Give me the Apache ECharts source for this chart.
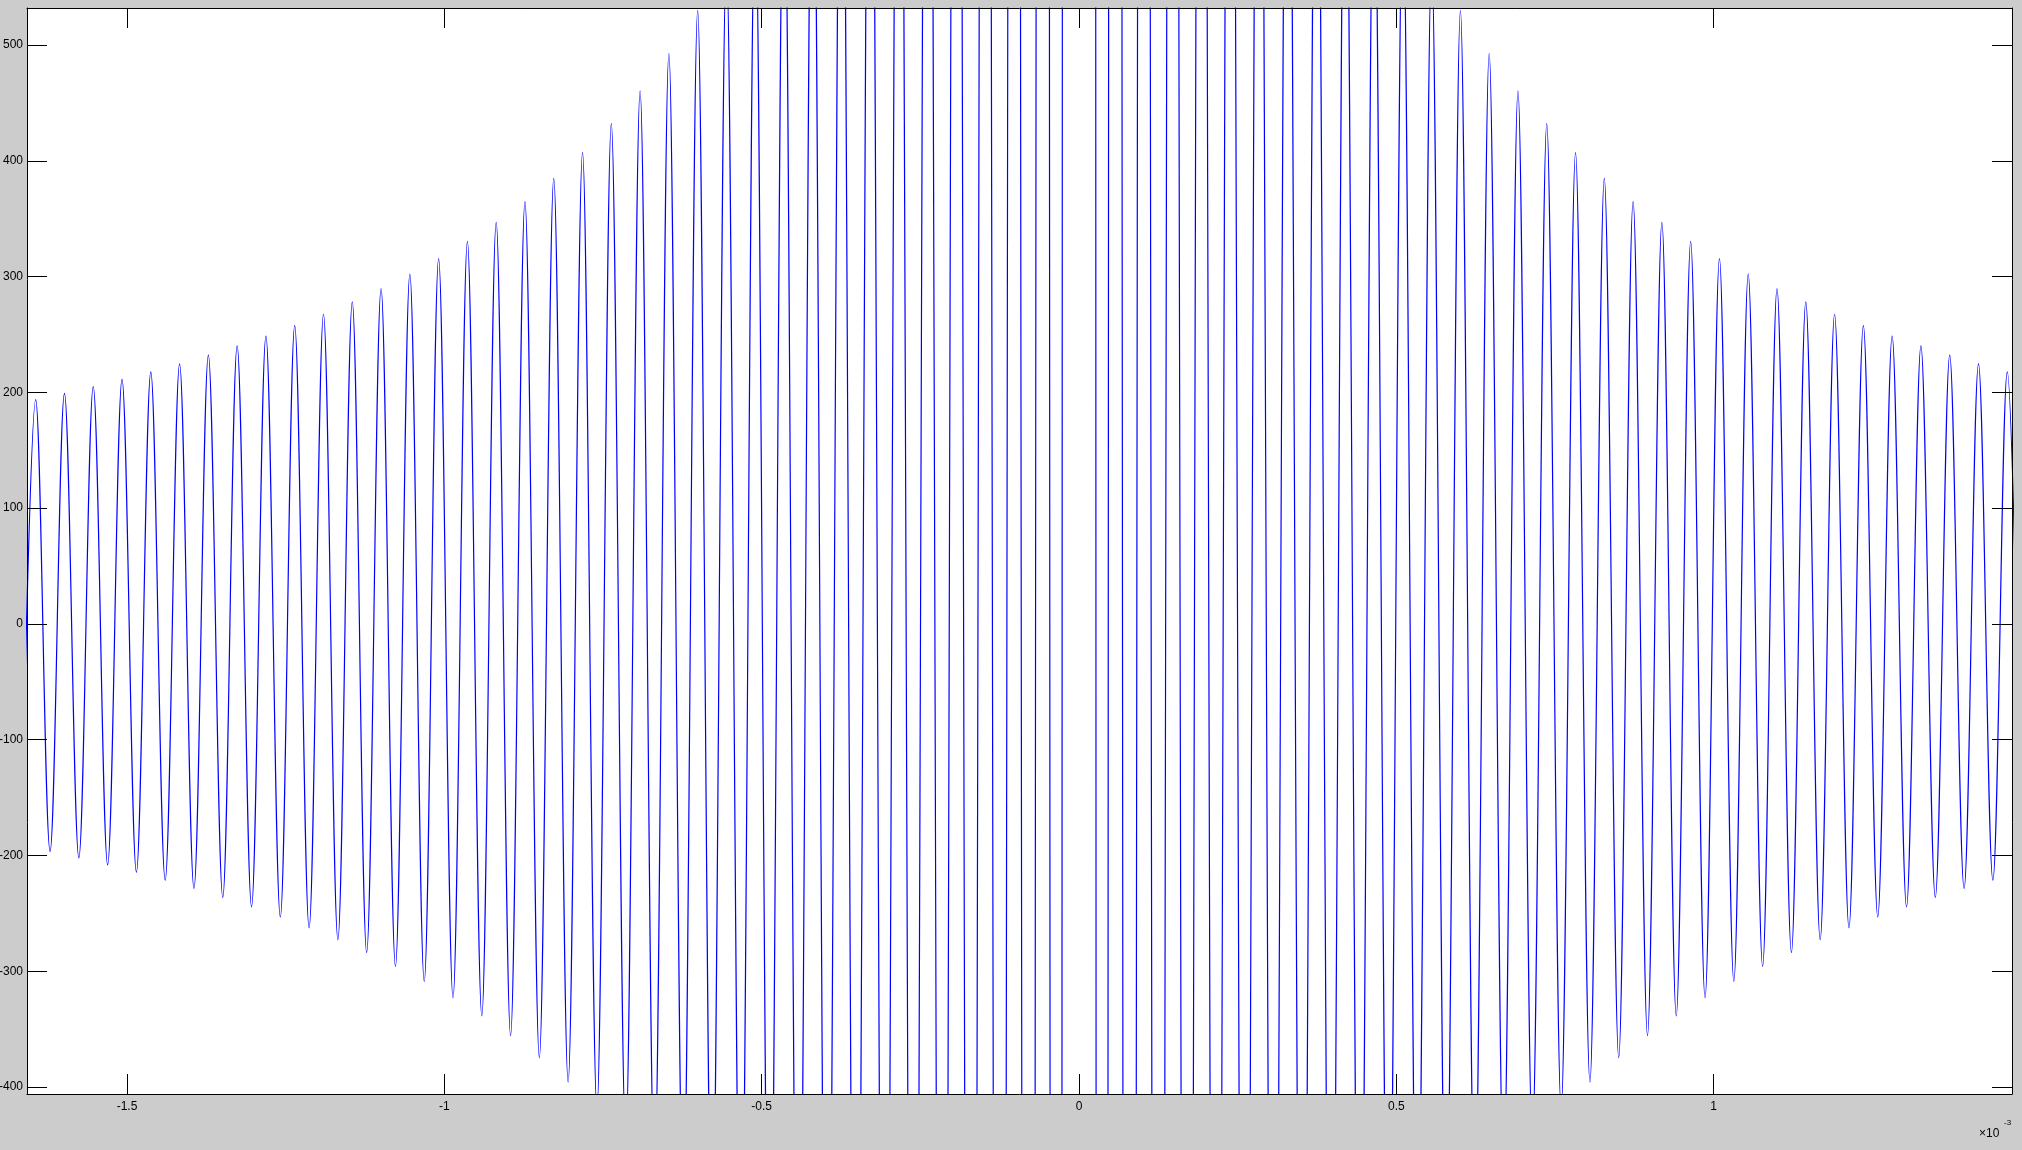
<!DOCTYPE html>
<html>
<head>
<meta charset="utf-8">
<script src="https://cdn.jsdelivr.net/npm/echarts@6/dist/echarts.min.js"></script>
<style>
html,body{margin:0;padding:0;background:#cccccc;}
#chart{width:2022px;height:1150px;}
</style>
</head>
<body>
<div id="chart"></div>
<script>
// Time axis is in units of 1e-3 (shown as "x 10^-3").
// Extremum (lobe) points read/, left of centre (far left first).
const leftTimes = [
  -1.66661,-1.64394,-1.62126,-1.59859,-1.57591,-1.55324,-1.53056,-1.50789,
  -1.48521,-1.46254,-1.43986,-1.41719,-1.39451,
  -1.37184,-1.34916,-1.32649,-1.30381,-1.28114,-1.25846,-1.23579,-1.21311,-1.19044,-1.16776,
  -1.14509,-1.12241,-1.09974,-1.07706,-1.05439,-1.03171,-1.00904,-0.98636,-0.96369,-0.94101,
  -0.91834,-0.89566,-0.87299,-0.85031,-0.82764,-0.80496,-0.78229,-0.75961,-0.73694,-0.71426,
  -0.69159,-0.66891,-0.64624,-0.62356,-0.60089,-0.57821,-0.55554,-0.53286,-0.51019,-0.48751,
  -0.46484,-0.44216,-0.41949,-0.39681,-0.37414,-0.35146,-0.32879,-0.30611,-0.28344,-0.26076,
  -0.23809,-0.21541,-0.19274,-0.17006,-0.14739,-0.12429,-0.10153,-0.07870,-0.05576,-0.03243
];
const leftValues = [
  -191.1,193.7,-196.5,199.2,-202.1,205.1,-208.1,211.2,
  -214.4,217.8,-221.2,224.7,-228.4,
  232.2,-236.1,240.1,-244.3,248.6,-253.1,257.7,-262.5,267.5,-272.7,
  278.1,-283.8,289.6,-295.7,302.1,-308.7,315.6,-322.9,330.5,-338.5,
  346.8,-355.6,364.8,-374.6,384.8,-395.7,407.1,-419.3,432.2,-445.9,
  460.5,-476.1,492.9,-510.8,530.0,-550.8,573.3,-597.7,624.3,-653.3,
  685.2,-720.3,759.3,-802.6,851.3,-906.2,968.7,-1040.5,1123.7,-1221.4,
  1337.7,-1478.6,1652.5,-1873,2161,-2559,3128,-4029,5666,-9585
];
// Central lobe (far above the visible range)
const centreTime = [0];
const centreValue = [44127];
// Extremum points right of centre
const rightTimes = [
  0.03243,0.05576,0.07870,0.10153,0.12429,0.14739,0.17006,0.19274,0.21541,0.23809,
  0.26076,0.28344,0.30611,0.32879,0.35146,0.37414,0.39681,0.41949,0.44216,0.46484,
  0.48751,0.51019,0.53286,0.55554,0.57821,0.60089,0.62356,0.64624,0.66891,0.69159,
  0.71426,0.73694,0.75961,0.78229,0.80496,0.82764,0.85031,0.87299,0.89566,0.91834,
  0.94101,0.96369,0.98636,1.00904,1.03171,1.05439,1.07706,1.09974,1.12241,1.14509,
  1.16776,1.19044,1.21311,1.23579,1.25846,1.28114,1.30381,1.32649,1.34916,1.37184,
  1.39451,1.41719,1.43986,1.46254,1.48521
];
const rightValues = [
  -9585,5666,-4029,3128,-2559,2161,-1873,1652.5,-1478.6,1337.7,
  -1221.4,1123.7,-1040.5,968.7,-906.2,851.3,-802.6,759.3,-720.3,685.2,
  -653.3,624.3,-597.7,573.3,-550.8,530.0,-510.8,492.9,-476.1,460.5,
  -445.9,432.2,-419.3,407.1,-395.7,384.8,-374.6,364.8,-355.6,346.8,
  -338.5,330.5,-322.9,315.6,-308.7,302.1,-295.7,289.6,-283.8,278.1,
  -272.7,267.5,-262.5,257.7,-253.1,248.6,-244.3,240.1,-236.1,232.2,
  -228.4,224.7,-221.2,217.8,-214.4
];
const xTickValues = [-1.5, -1, -0.5, 0, 0.5, 1];
const yTickValues = [-400, -300, -200, -100, 0, 100, 200, 300, 400, 500];
const xLimits = [-1.6576, 1.470];
const yLimits = [-406, 532];

const allTimes = leftTimes.concat(centreTime, rightTimes);
const allValues = leftValues.concat(centreValue, rightValues);
const seriesData = allTimes.map((t, i) => [t, allValues[i]]);

const FONT = '"Liberation Sans", Arial, Helvetica, sans-serif';

function xAxisDef(pos, showLabel) {
  return {
    type: 'value', position: pos, min: xLimits[0], max: xLimits[1],
    axisLine: {show: true, onZero: false, lineStyle: {color: '#000', width: 1}},
    splitLine: {show: false},
    axisTick: {show: true, inside: true, length: 20, customValues: xTickValues,
               lineStyle: {color: '#000', width: 1}},
    axisLabel: {show: showLabel, customValues: xTickValues, color: '#000',
                fontSize: 12, fontFamily: FONT, margin: 7},
    z: 5
  };
}
function yAxisDef(pos, showLabel) {
  return {
    type: 'value', position: pos, min: yLimits[0], max: yLimits[1],
    axisLine: {show: true, onZero: false, lineStyle: {color: '#000', width: 1}},
    splitLine: {show: false},
    axisTick: {show: true, inside: true, length: 20, customValues: yTickValues,
               lineStyle: {color: '#000', width: 1}},
    axisLabel: {show: showLabel, customValues: yTickValues, color: '#000',
                fontSize: 12, fontFamily: FONT, margin: 4},
    z: 5
  };
}

const chart = echarts.init(document.getElementById('chart'), null, {renderer: 'canvas'});
chart.setOption({
  animation: false,
  backgroundColor: '#cccccc',
  grid: {left: 27, right: 10, top: 8, bottom: 56, show: true,
         containLabel: false, outerBoundsMode: 'none',
         backgroundColor: '#ffffff', borderWidth: 0},
  xAxis: [xAxisDef('bottom', true), xAxisDef('top', false)],
  yAxis: [yAxisDef('left', true), yAxisDef('right', false)],
  series: [{
    type: 'line',
    data: seriesData,
    xAxisIndex: 0, yAxisIndex: 0,
    showSymbol: false,
    smooth: 0.36,
    smoothMonotone: 'x',
    clip: true,
    lineStyle: {color: '#0000ff', width: 1.2},
    itemStyle: {color: '#0000ff'},
    z: 2
  }],
  graphic: [
    {type: 'text', left: 1979, top: 1128,
     style: {text: '×10', fill: '#000', font: '12px ' + FONT}},
    {type: 'text', left: 2004, top: 1119,
     style: {text: '-3', fill: '#000', font: '8px ' + FONT}}
  ]
});
</script>
</body>
</html>
